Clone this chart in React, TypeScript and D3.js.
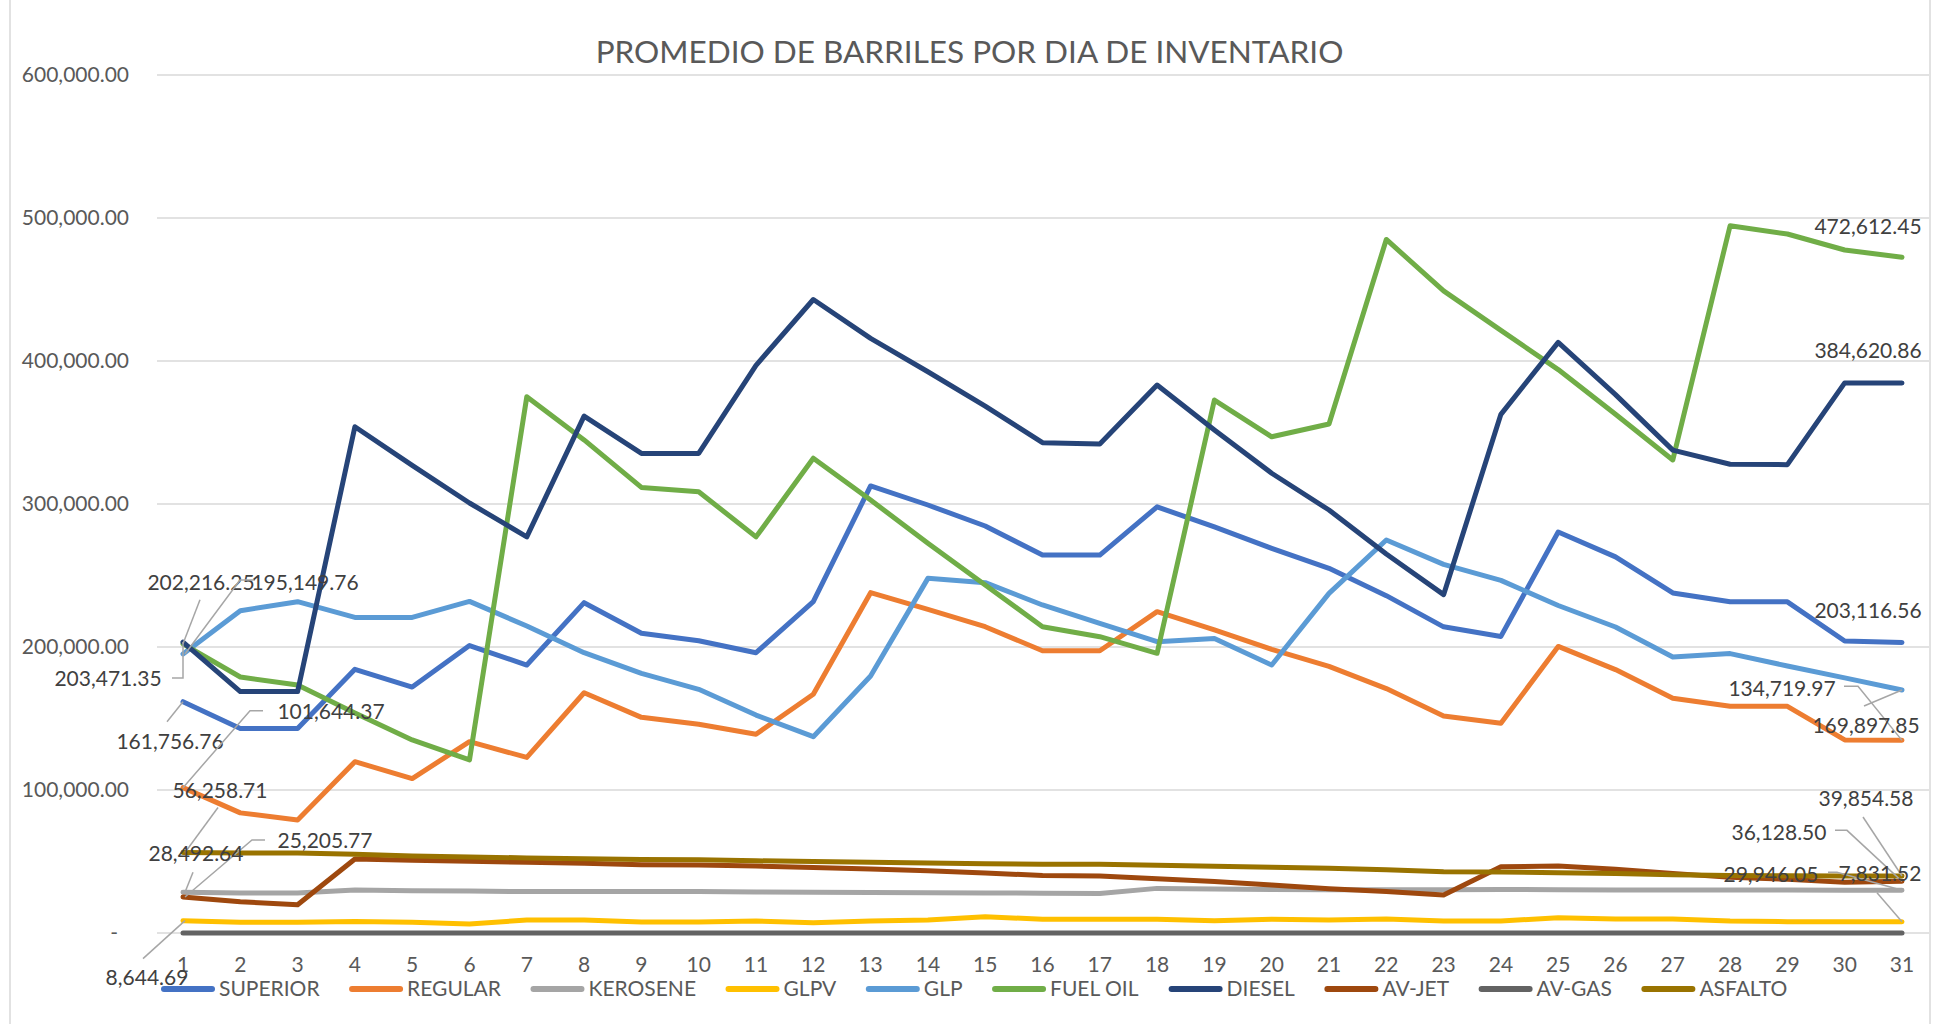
import * as React from 'react';
import * as d3 from 'd3';

const days = d3.range(1, 32).map(String);

const seriesNames = ['SUPERIOR', 'REGULAR', 'KEROSENE', 'GLPV', 'GLP', 'FUEL OIL', 'DIESEL', 'AV-JET', 'AV-GAS', 'ASFALTO'];
const seriesColors = ['#4472C4', '#ED7D31', '#A5A5A5', '#FFC000', '#5B9BD5', '#70AD47', '#264478', '#9E480E', '#636363', '#997300'];

const superior = [161756.76, 143000, 143000, 184400, 172000, 201000, 187400, 231000, 209600, 204400, 196000, 231700, 312600, 299300, 284600, 264300, 264300, 298000, 284000, 269000, 255000, 235900, 214100, 207400, 280400, 263000, 237800, 231600, 231600, 204200, 203116.56];
const regular = [101644.37, 84000, 79000, 119800, 108000, 133800, 122800, 168000, 150800, 146000, 139000, 167000, 238000, 226300, 214200, 197400, 197400, 224700, 211900, 198400, 186500, 170900, 151700, 146700, 200400, 184200, 164200, 158500, 158500, 135000, 134719.97];
const kerosene = [28492.64, 28000, 28000, 30000, 29600, 29300, 29000, 29000, 29000, 29000, 28700, 28500, 28300, 28200, 28000, 27800, 27600, 31200, 30800, 30500, 30300, 30300, 30200, 30500, 30200, 30100, 30000, 30000, 30000, 29900, 29946.05];
const glpv = [8644.69, 7500, 7500, 8000, 7600, 6300, 9100, 9100, 7700, 7700, 8400, 7200, 8400, 9100, 11400, 9600, 9600, 9600, 8600, 9600, 9100, 9800, 8400, 8400, 10700, 9800, 9800, 8400, 7900, 7900, 7831.52];
const glp = [195149.76, 225400, 231700, 220700, 220700, 231900, 214700, 196000, 181600, 170400, 152400, 137300, 179700, 248000, 245000, 229400, 216600, 203700, 206000, 187400, 237500, 274800, 257800, 246600, 229000, 214000, 193000, 195400, 186700, 178400, 169897.85];
const fuelOil = [202216.25, 179000, 173400, 153800, 135000, 121000, 375000, 344800, 311600, 308600, 277000, 332000, 302800, 272500, 243400, 214200, 207200, 195600, 372700, 347000, 355900, 485000, 449000, 421400, 394000, 362700, 330800, 494600, 488800, 477600, 472612.45];
const diesel = [203471.35, 168800, 168800, 354000, 327000, 300700, 277000, 361500, 335400, 335400, 397000, 443000, 415800, 392500, 368500, 342900, 342000, 383200, 351700, 321500, 295800, 265000, 236600, 362700, 413000, 376500, 337700, 327800, 327500, 384700, 384620.86];
const avJet = [25205.77, 21900, 19800, 51800, 50800, 50200, 49500, 48700, 47800, 47500, 46800, 45800, 44800, 43500, 42000, 40200, 39800, 38000, 36000, 33500, 31000, 29000, 26500, 46400, 46800, 44500, 41700, 38900, 37500, 35500, 36128.50];
const avGas = d3.range(31).map(() => 0);
const asfalto = [56258.71, 56000, 55900, 55000, 53800, 53200, 52500, 52000, 51400, 51200, 50500, 50000, 49400, 49000, 48400, 48000, 48000, 47300, 46600, 46000, 45300, 44200, 42800, 42600, 42200, 41600, 40700, 40200, 40000, 39900, 39854.58];

const seriesValues = [superior, regular, kerosene, glpv, glp, fuelOil, diesel, avJet, avGas, asfalto];

const yTicks = [0, 100000, 200000, 300000, 400000, 500000, 600000];

// data labels: series index, day, label offset from point, leader polyline offsets
const dataLabels = [
    {s: 5, day: '1', dx: 18, dy: -61, leader: [[17, -44], [0, 0]]},
    {s: 4, day: '1', dx: 122, dy: -71, leader: [[72, -74], [57, -74], [2, 0]]},
    {s: 6, day: '1', dx: -75, dy: 37, leader: [[-11, 36], [0, 36], [0, 0]]},
    {s: 0, day: '1', dx: -13, dy: 40, leader: [[-16, 20], [0, 0]]},
    {s: 1, day: '1', dx: 148, dy: -76, leader: [[80, -77], [67, -77], [0, 0]]},
    {s: 9, day: '1', dx: 37, dy: -62, leader: [[35, -45], [2, 0]]},
    {s: 7, day: '1', dx: 142, dy: -56, leader: [[82, -57], [69, -57], [2, 0]]},
    {s: 2, day: '1', dx: 13, dy: -39, leader: [[10, -20], [2, 0]]},
    {s: 3, day: '1', dx: -36, dy: 57, leader: [[-40, 38], [2, 0]]},
    {s: 5, day: '31', dx: -34, dy: -31, leader: []},
    {s: 6, day: '31', dx: -34, dy: -32, leader: []},
    {s: 0, day: '31', dx: -34, dy: -32, leader: []},
    {s: 1, day: '31', dx: -120, dy: -52, leader: [[-58, -54], [-44, -54], [0, 0]]},
    {s: 4, day: '31', dx: -36, dy: 36, leader: [[-38, 16], [0, 0]]},
    {s: 9, day: '31', dx: -36, dy: -77, leader: [[-39, -59], [0, 0]]},
    {s: 7, day: '31', dx: -123, dy: -49, leader: [[-67, -51], [-55, -51], [0, 0]]},
    {s: 2, day: '31', dx: -131, dy: -16, leader: [[-74, -18], [-65, -18], [0, 0]]},
    {s: 3, day: '31', dx: -22, dy: -48, leader: [[-25, -29], [0, 0]]},
];

const FONT = 'Lato, "Open Sans", sans-serif';

function measure(text: string, size: number): number {
    const ctx = document.createElement('canvas').getContext('2d');
    if (!ctx) return text.length * size * 0.55;
    ctx.font = `${size}px Lato`;
    return ctx.measureText(text).width;
}

export default function App() {
    const width = 1939;
    const height = 1024;
    const plot = {left: 157, right: 1929, top: 75, bottom: 933};

    const x = d3.scalePoint<string>().domain(days).range([183, 1902]);
    const y = d3.scaleLinear().domain([0, 600000]).range([plot.bottom, plot.top]);
    const line = d3.line<number>()
        .x((d, i) => x(days[i]) as number)
        .y((d) => y(d));
    const fmt = d3.format(',.2f');

    // legend flow layout
    let lx = 161;
    const legendItems = seriesNames.map((name, i) => {
        const item = {name, color: seriesColors[i], x: lx};
        lx += 54 + 4 + measure(name, 21) + 29.5;
        return item;
    });

    return (
        <div style={{position: 'absolute', left: 0, top: 0}}>
            <svg width={width} height={height} viewBox={`0 0 ${width} ${height}`} style={{display: 'block', background: '#fff'}}>
                <line x1={10} x2={10} y1={0} y2={height} stroke="#D9D9D9" strokeWidth={1.5}/>
                <line x1={1930} x2={1930} y1={0} y2={height} stroke="#D9D9D9" strokeWidth={1.5}/>
                <text x={969.5} y={63} textAnchor="middle" fontFamily={FONT} fontSize={31.5} fill="#595959">
                    PROMEDIO DE BARRILES POR DIA DE INVENTARIO
                </text>
                <g>
                    {yTicks.map((t) => (
                        <g key={t}>
                            <line x1={plot.left} x2={plot.right} y1={y(t)} y2={y(t)} stroke="#D9D9D9" strokeWidth={1.5}/>
                            <text x={t === 0 ? 118 : 129} y={y(t)} dy="0.35em" textAnchor="end" fontFamily={FONT}
                                  fontSize={21} fill="#595959">{t === 0 ? '-' : fmt(t)}</text>
                        </g>
                    ))}
                </g>
                <g>
                    {days.map((d) => (
                        <text key={d} x={x(d)} y={965} dy="0.35em" textAnchor="middle" fontFamily={FONT} fontSize={21}
                              fill="#595959">{d}</text>
                    ))}
                </g>
                <g>
                    {seriesValues.map((vals, i) => (
                        <path key={seriesNames[i]} d={line(vals) || ''} fill="none" stroke={seriesColors[i]}
                              strokeWidth={5} strokeLinejoin="round" strokeLinecap="round"/>
                    ))}
                </g>
                <g>
                    {dataLabels.map((lb, k) => {
                        const idx = days.indexOf(lb.day);
                        const px = x(lb.day) as number;
                        const py = y(seriesValues[lb.s][idx]);
                        const pts = lb.leader.map((p) => `${px + p[0]},${py + p[1]}`).join(' ');
                        return (
                            <g key={k}>
                                {lb.leader.length > 0 &&
                                <polyline points={pts} fill="none" stroke="#A6A6A6" strokeWidth={1.5}/>}
                                <text x={px + lb.dx} y={py + lb.dy} dy="0.35em" textAnchor="middle" fontFamily={FONT}
                                      fontSize={21} fill="#404040">{fmt(seriesValues[lb.s][idx])}</text>
                            </g>
                        );
                    })}
                </g>
                <g>
                    {legendItems.map((it) => (
                        <g key={it.name}>
                            <line x1={it.x + 3} x2={it.x + 51} y1={989} y2={989} stroke={it.color} strokeWidth={6}
                                  strokeLinecap="round"/>
                            <text x={it.x + 58} y={989} dy="0.35em" fontFamily={FONT} fontSize={21}
                                  fill="#595959">{it.name}</text>
                        </g>
                    ))}
                </g>
            </svg>
        </div>
    );
}
